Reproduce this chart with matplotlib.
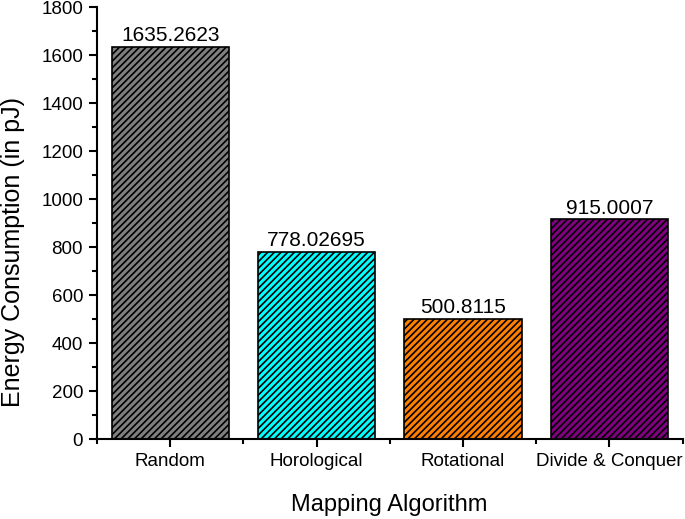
import matplotlib.pyplot as plt
from matplotlib.ticker import MultipleLocator

plt.rcParams['font.family'] = ['Liberation Sans', 'DejaVu Sans']
plt.rcParams['hatch.linewidth'] = 1.2

algorithmes = ["Random", "Horological", "Rotational", "Divide & Conquer"]
energie = [1635.2623, 778.02695, 500.8115, 915.0007]
etiquettes = ["1635.2623", "778.02695", "500.8115", "915.0007"]
couleurs = ["#808080", "#00ffff", "#ff8000", "#800080"]

fig = plt.figure(figsize=(6.85, 5.19), dpi=100)
ax = fig.add_axes([0.1416, 0.154, 0.855, 0.8325])

positions = range(len(algorithmes))
ax.bar(positions, energie, width=0.8, color=couleurs,
       edgecolor="black", linewidth=1.2, hatch="/////")

for x, y, txt in zip(positions, energie, etiquettes):
    ax.text(x, y + 8, txt, ha="center", va="bottom", fontsize=15)

ax.set_xlim(-0.5, 3.5)
ax.set_ylim(0, 1800)
ax.set_xticks(list(positions))
ax.set_xticklabels(algorithmes, fontsize=13.5)
ax.xaxis.set_minor_locator(MultipleLocator(1, offset=0.5))
ax.yaxis.set_major_locator(MultipleLocator(200))
ax.yaxis.set_minor_locator(MultipleLocator(100))
ax.tick_params(axis="y", labelsize=13.5)
ax.tick_params(which="major", direction="out", length=6, width=1.5, pad=4)
ax.tick_params(which="minor", direction="out", length=3.5, width=1.5)

for cote in ["top", "right"]:
    ax.spines[cote].set_visible(False)
for cote in ["left", "bottom"]:
    ax.spines[cote].set_linewidth(1.5)

ax.set_xlabel("Mapping Algorithm", fontsize=17)
ax.set_ylabel("Energy Consumption (in pJ)", fontsize=18)
ax.xaxis.set_label_coords(0.499, -0.127)
ax.yaxis.set_label_coords(-0.123, 0.433)

fig.savefig("out.png", dpi=100)
